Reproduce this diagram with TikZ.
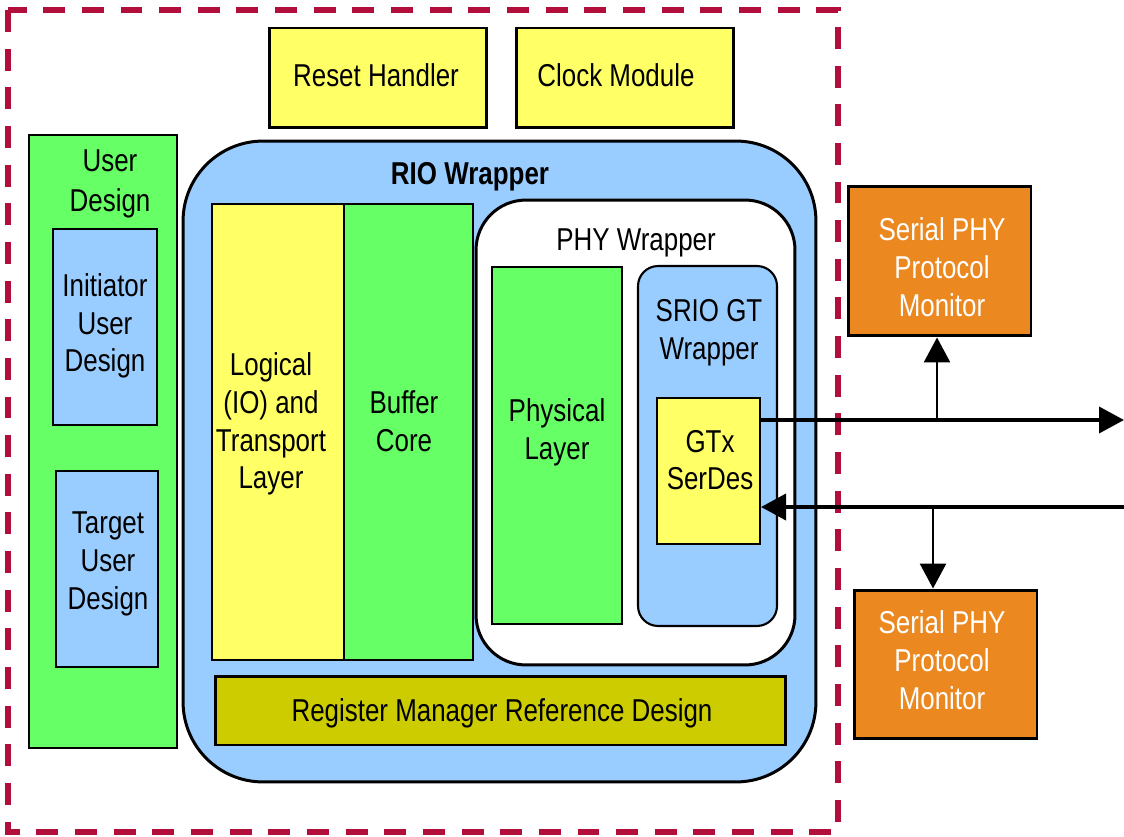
\documentclass[tikz,border=0pt]{standalone}
\usepackage{fontspec}
\setmainfont[FakeStretch=0.82]{Liberation Sans}
\usetikzlibrary{calc,arrows.meta}
\definecolor{DashRed}{RGB}{178,14,60}
\definecolor{BoxYellow}{RGB}{255,255,102}
\definecolor{BoxGreen}{RGB}{102,255,102}
\definecolor{BoxBlue}{RGB}{153,204,255}
\definecolor{BoxOlive}{RGB}{204,204,0}
\definecolor{BoxOrange}{RGB}{236,136,32}

\begin{document}
\begin{tikzpicture}[x=0.02cm,y=-0.02cm]
				\tikzstyle{every node}=[draw, shape=rectangle, line width=1.2pt, font=\fontsize{18}{21.5}\selectfont, align=center, inner sep=0pt];
				\tikzstyle{txt}=[draw=none];
				\useasboundingbox (0,0) rectangle (1124,837);
				\draw[DashRed, line width=3.4pt, dash pattern=on 12.5pt off 9.5pt] (8,10) rectangle (838,832);
				\node [fill=BoxYellow, line width=1.7pt, minimum width=4.36cm, minimum height=2cm] (rst) at (378,78) {};
				\node [txt] (t13) at (376,75) {Reset Handler};
				\node [fill=BoxYellow, line width=1.7pt, minimum width=4.36cm, minimum height=2cm] (clk) at (625,78) {};
				\node [txt] (t14) at (616,75) {Clock Module};
				\node [fill=BoxGreen, minimum width=2.96cm, minimum height=12.26cm] (usr) at (103,441.5) {};
				\node [txt, font=\fontsize{18}{23}\selectfont] (t01) at (110,184) {User\\Design};
				\node [fill=BoxBlue, minimum width=2.08cm, minimum height=3.92cm] (ini) at (105,327) {};
				\node [txt] (t02) at (105,326) {Initiator\\User\\Design};
				\node [fill=BoxBlue, minimum width=2.04cm, minimum height=3.92cm] (tgt) at (107,569) {};
				\node [txt] (t03) at (108,564) {Target\\User\\Design};
				\node [fill=BoxBlue, line width=1.7pt, rounded corners=1.6cm, minimum width=12.66cm, minimum height=12.82cm] (rio) at (499.5,461.5) {};
				\node [txt, font=\fontsize{18}{21.5}\selectfont\bfseries] (t04) at (470,177) {RIO Wrapper};
				\node [fill=BoxYellow, minimum width=2.64cm, minimum height=9.12cm] (log) at (278,432) {};
				\node [txt] (t05) at (271,424) {Logical\\(IO) and\\Transport\\Layer};
				\node [fill=BoxGreen, minimum width=2.58cm, minimum height=9.12cm] (buf) at (408.5,432) {};
				\node [txt] (t06) at (404,421) {Buffer\\Core};
				\node [fill=white, line width=1.7pt, rounded corners=1cm, minimum width=6.38cm, minimum height=9.3cm] (phy) at (635.5,432.5) {};
				\node [txt] (t07) at (636,243) {PHY Wrapper};
				\node [fill=BoxGreen, minimum width=2.6cm, minimum height=7.14cm] (pl) at (557,445.5) {};
				\node [txt] (t08) at (557,432) {Physical\\Layer};
				\node [fill=BoxBlue, rounded corners=0.4cm, minimum width=2.78cm, minimum height=7.2cm] (gtw) at (707.5,446) {};
				\node [txt] (t09) at (709,333) {SRIO GT\\Wrapper};
				\node [fill=BoxYellow, minimum width=2.06cm, minimum height=2.92cm] (gtx) at (708.5,471) {};
				\node [txt] (t10) at (710,460) {GTx\\SerDes};
				\node [fill=BoxOlive, line width=1.7pt, minimum width=11.42cm, minimum height=1.38cm] (reg) at (500.5,710.5) {};
				\node [txt] (t15) at (502,713) {Register Manager Reference Design};
				\node [fill=BoxOrange, line width=1.7pt, minimum width=3.66cm, minimum height=3cm] (mon1) at (939.5,261) {};
				\node [txt, text=white] (t11) at (942,267) {Serial PHY\\Protocol\\Monitor};
				\node [fill=BoxOrange, line width=1.7pt, minimum width=3.66cm, minimum height=2.98cm] (mon2) at (945.5,664.5) {};
				\node [txt, text=white] (t12) at (942,660) {Serial PHY\\Protocol\\Monitor};
				\coordinate (out) at (1124,420);
				\coordinate (in) at (1124,507);
				\coordinate (tap1) at (937,420);
				\coordinate (tap2) at (933,507);
				\draw[-{Triangle[length=0.5cm,width=0.52cm]}, line width=2.2pt] (gtx.east |- out) -- (out);
				\draw[-{Triangle[length=0.5cm,width=0.52cm]}, line width=2.2pt] (in) -- (gtx.east |- in);
				\draw[-{Triangle[length=0.5cm,width=0.52cm]}, line width=1.5pt] (tap1) -- (tap1 |- mon1.south);
				\draw[-{Triangle[length=0.5cm,width=0.52cm]}, line width=1.5pt] (tap2) -- (tap2 |- mon2.north);
			\end{tikzpicture}
\end{document}
